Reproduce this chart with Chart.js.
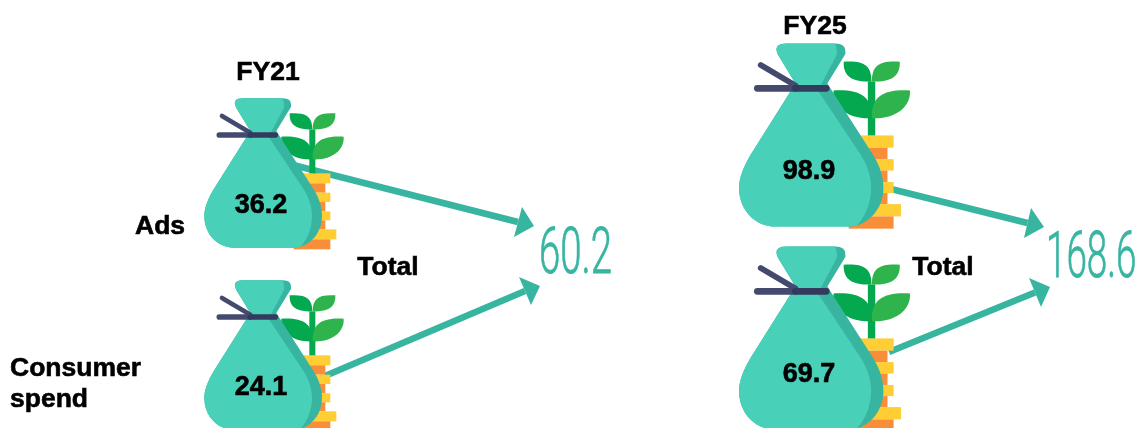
<!DOCTYPE html>
<html lang="en">

<head>
    <meta charset="UTF-8">
    <title>Ads and consumer spend</title>
    <script src="https://cdn.jsdelivr.net/npm/chart.js"></script>
</head>

<style>
    body {
        padding: 0;
        margin: 0;
        background-color: #FFF;
        overflow: hidden;
    }

    canvas {
        display: block;
    }
</style>

<body>
    <canvas id="myChartCanvas" width="1140" height="428"></canvas>
</body>

</html>

<script>
    const periods = ['FY21', 'FY25'];
    const seriesNames = ['Ads', 'Consumer spend'];
    const adsValues = [36.2, 98.9];
    const consumerValues = [24.1, 69.7];
    const totals = [60.2, 168.6];
    const totalLabel = 'Total';

    const TEAL = '#49D0B8';
    const TEAL_DARK = '#37B5A1';
    const LABEL_FONT = 'bold 26.5px "Liberation Sans"';
    const NUMBER_FONT = 'bold 27px "Liberation Sans"';

    // placement of each year's group around its point on the scales
    const groupLayout = [
        { scale: 1 / 3, rowShift: [19, 9], numberDy: 33, titleX: 268, titleY: 73, totalLabelX: 388, totalLabelY: 268, totalX: 539, totalY: 273, totalStretch: 0.6,
          tails: [[30, -8], [62, 21]], tips: [[534, 226], [540, 286]], headA: [[522, 207], [519, 277]], headB: [[514, 237], [531, 305]] },
        { scale: 0.409, rowShift: [-19, -8], numberDy: 37, titleX: 815, titleY: 27, totalLabelX: 943, totalLabelY: 268, totalX: 1046, totalY: 277, totalStretch: 0.575,
          tails: [[80, 54], [78, 14]], tips: [[1044, 227], [1050, 287]], headA: [[1031, 208], [1029, 278]], headB: [[1024, 238], [1041, 307]] }
    ];

    function desenharPlanta(ctx) {
        // moedas
        const moedas = [[1, 30, 202, '#FFCD34'], [31, 28, 187, '#F98E3A'], [59, 28, 202, '#FFCD34'], [87, 28, 187, '#F98E3A'],
            [115, 27, 202, '#FFCD34'], [142, 27, 187, '#F98E3A'], [169, 30, 220, '#FFCD34'], [199, 30, 202, '#F98E3A']];
        moedas.forEach(function (m) {
            ctx.fillStyle = m[3];
            ctx.fillRect(92, m[0], m[2] - 92, m[1]);
        });

        ctx.fillStyle = '#03A84F';
        ctx.fillRect(139, -131, 18, 132);

        ctx.beginPath();
        ctx.moveTo(80, -179);
        ctx.bezierCurveTo(130, -182, 148, -170, 148, -131);
        ctx.bezierCurveTo(100, -128, 78, -145, 80, -179);
        ctx.moveTo(55, -109);
        ctx.bezierCurveTo(120, -112, 150, -95, 148, -41);
        ctx.bezierCurveTo(90, -38, 52, -70, 55, -109);
        ctx.fill();

        ctx.fillStyle = '#2FB34C';
        ctx.beginPath();
        ctx.moveTo(217, -179);
        ctx.bezierCurveTo(167, -182, 149, -170, 149, -131);
        ctx.bezierCurveTo(197, -128, 219, -145, 217, -179);
        ctx.moveTo(242, -109);
        ctx.bezierCurveTo(177, -112, 147, -95, 149, -41);
        ctx.bezierCurveTo(207, -38, 245, -70, 242, -109);
        ctx.fill();
    }

    function caminhoSaco(ctx) {
        ctx.beginPath();
        ctx.moveTo(-60, -224);
        ctx.lineTo(60, -224);
        ctx.quadraticCurveTo(84, -224, 84, -205);
        ctx.lineTo(84, -198);
        ctx.lineTo(40, -126);
        ctx.lineTo(152, 49);
        ctx.bezierCurveTo(170, 78, 177, 105, 177, 129);
        ctx.bezierCurveTo(177, 185, 135, 224, 92, 224);
        ctx.lineTo(-88, 224);
        ctx.bezierCurveTo(-135, 224, -176, 185, -176, 129);
        ctx.bezierCurveTo(-176, 105, -165, 78, -148, 49);
        ctx.lineTo(-38, -126);
        ctx.lineTo(-80, -195);
        ctx.quadraticCurveTo(-95, -224, -60, -224);
        ctx.closePath();
    }

    function desenharSaco(ctx) {
        caminhoSaco(ctx);
        ctx.fillStyle = TEAL_DARK;
        ctx.fill();

        // parte clara do saco
        ctx.save();
        caminhoSaco(ctx);
        ctx.clip();
        ctx.beginPath();
        ctx.moveTo(-200, -240);
        ctx.lineTo(52, -240);
        ctx.quadraticCurveTo(70, -205, 60, -190);
        ctx.lineTo(17, -109);
        ctx.lineTo(122, 49);
        ctx.bezierCurveTo(140, 78, 147, 105, 147, 129);
        ctx.bezierCurveTo(147, 180, 120, 224, 88, 240);
        ctx.lineTo(-200, 240);
        ctx.closePath();
        ctx.fillStyle = TEAL;
        ctx.fill();
        ctx.restore();

        // cordinha
        ctx.lineCap = 'round';
        ctx.strokeStyle = '#434A6E';
        ctx.lineWidth = 14;
        ctx.beginPath();
        ctx.moveTo(-123, -171);
        ctx.lineTo(-38, -121);
        ctx.stroke();
        ctx.lineWidth = 17;
        ctx.beginPath();
        ctx.moveTo(-131, -114);
        ctx.lineTo(-38, -114);
        ctx.stroke();
        ctx.strokeStyle = '#333A5E';
        ctx.beginPath();
        ctx.moveTo(-38, -114);
        ctx.lineTo(37, -114);
        ctx.stroke();
    }

    function desenharSeta(ctx, x0, y0, i, layout) {
        const tip = layout.tips[i];
        const a = layout.headA[i];
        const b = layout.headB[i];
        ctx.strokeStyle = TEAL_DARK;
        ctx.lineWidth = 6.5;
        ctx.lineCap = 'butt';
        ctx.beginPath();
        ctx.moveTo(x0, y0);
        ctx.lineTo((a[0] + b[0]) / 2, (a[1] + b[1]) / 2);
        ctx.stroke();
        ctx.fillStyle = TEAL_DARK;
        ctx.beginPath();
        ctx.moveTo(tip[0], tip[1]);
        ctx.lineTo(a[0], a[1]);
        ctx.lineTo(b[0], b[1]);
        ctx.closePath();
        ctx.fill();
    }

    // texto preto um pouco mais pesado que o bold normal
    function textoForte(ctx, texto, x, y) {
        ctx.fillStyle = '#000';
        ctx.strokeStyle = '#000';
        ctx.lineWidth = 0.6;
        ctx.textBaseline = 'middle';
        ctx.fillText(texto, x, y);
        ctx.strokeText(texto, x, y);
    }

    const sacosPlugin = {
        id: 'sacos',
        afterDatasetsDraw(chart) {
            const ctx = chart.ctx;
            ctx.save();

            chart.data.datasets.forEach(function (dataset, s) {
                const meta = chart.getDatasetMeta(s);
                meta.data.forEach(function (ponto, p) {
                    const layout = groupLayout[p];
                    const x = ponto.x;
                    const y = ponto.y + layout.rowShift[s];

                    desenharSeta(ctx, x + layout.tails[s][0], y + layout.tails[s][1], s, layout);

                    ctx.save();
                    ctx.translate(x, y);
                    ctx.scale(layout.scale, layout.scale);
                    desenharPlanta(ctx);
                    desenharSaco(ctx);
                    ctx.restore();

                    ctx.font = NUMBER_FONT;
                    ctx.textAlign = 'center';
                    textoForte(ctx, dataset.data[p].valor.toFixed(1), x - 2, y + layout.numberDy);
                });
            });

            periods.forEach(function (periodo, p) {
                const layout = groupLayout[p];
                ctx.font = LABEL_FONT;
                ctx.textAlign = 'center';
                textoForte(ctx, periodo, layout.titleX, layout.titleY);
                textoForte(ctx, totalLabel, layout.totalLabelX, layout.totalLabelY);

                ctx.save();
                ctx.translate(layout.totalX, layout.totalY);
                ctx.scale(layout.totalStretch, 1);
                ctx.fillStyle = TEAL_DARK;
                ctx.strokeStyle = TEAL_DARK;
                ctx.lineWidth = 0.8;
                ctx.font = '300 64px Roboto';
                ctx.textAlign = 'left';
                ctx.textBaseline = 'alphabetic';
                ctx.fillText(String(totals[p]), 0, 0);
                ctx.strokeText(String(totals[p]), 0, 0);
                ctx.restore();
            });

            // nomes das series
            ctx.font = LABEL_FONT;
            ctx.textAlign = 'left';
            textoForte(ctx, seriesNames[0], 135, 227);
            const partes = seriesNames[1].split(' ');
            textoForte(ctx, partes[0], 10, 369);
            textoForte(ctx, partes[1], 10, 400);
            ctx.restore();
        }
    };

    let chartData = {
        datasets: [
            {
                label: seriesNames[0],
                data: periods.map(function (periodo, i) {
                    return { x: periodo, y: seriesNames[0], valor: adsValues[i] };
                }),
                pointRadius: 0
            },
            {
                label: seriesNames[1],
                data: periods.map(function (periodo, i) {
                    return { x: periodo, y: seriesNames[1], valor: consumerValues[i] };
                }),
                pointRadius: 0
            }
        ]
    };

    const config = {
        type: 'scatter',
        data: chartData,
        options: {
            responsive: false,
            animation: false,
            layout: {
                padding: { left: 263, right: 329, top: 154, bottom: 82 }
            },
            scales: {
                x: { type: 'category', labels: periods, display: false },
                y: { type: 'category', labels: seriesNames, display: false }
            },
            plugins: {
                legend: { display: false },
                tooltip: { enabled: false }
            }
        },
        plugins: [sacosPlugin]
    };

    let myChart = new Chart(
        document.getElementById('myChartCanvas'),
        config
    );
</script>
